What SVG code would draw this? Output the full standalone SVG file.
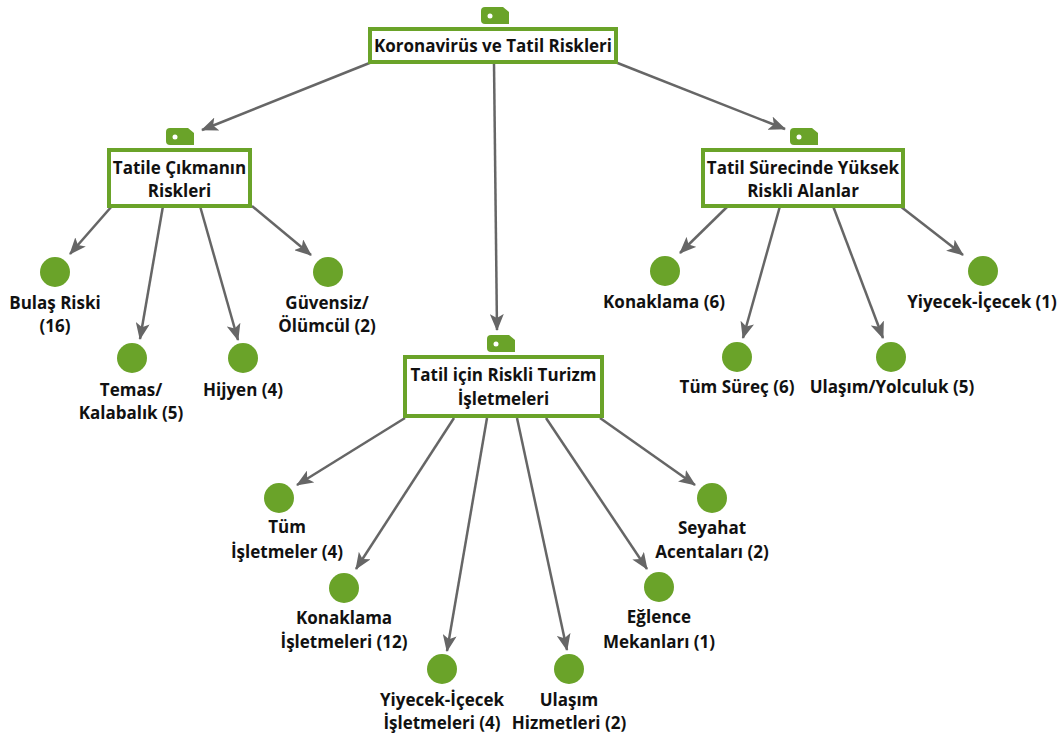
<svg xmlns="http://www.w3.org/2000/svg" width="1064" height="740" viewBox="0 0 1064 740">
  <defs>
    <style>
      .box { fill: #ffffff; stroke: #6aa329; stroke-width: 4; }
      .tag { fill: #6aa329; }
      .dot { fill: #ffffff; }
      .leaf { fill: #6aa329; }
      .lbl { font-family: "Open Sans", "Noto Sans", sans-serif; font-weight: 700; font-size: 17px; fill: #111111; text-anchor: middle; }
      .edge { stroke: #666666; stroke-width: 2.5; fill: none; marker-end: url(#arrow); }
    </style>
    <marker id="arrow" markerUnits="userSpaceOnUse" markerWidth="17" markerHeight="14" refX="16" refY="7" orient="auto">
      <path d="M0,0 L17,7 L0,14 L4,7 Z" fill="#666666"/>
    </marker>
    <path id="tagShape" d="M4,0 H22 L28,5 V17 H4 Q0,17 0,13 V4 Q0,0 4,0 Z"/>
  </defs>

  <rect width="1064" height="740" fill="#ffffff"/>

  <!-- connectors -->
  <g id="connectors">
    <line class="edge" x1="372" y1="62" x2="202" y2="130"/>
    <line class="edge" x1="494" y1="63" x2="497" y2="330"/>
    <line class="edge" x1="615" y1="62" x2="785" y2="129"/>

    <line class="edge" x1="112" y1="206" x2="70" y2="254"/>
    <line class="edge" x1="163" y1="206" x2="140" y2="339"/>
    <line class="edge" x1="200" y1="206" x2="238" y2="340"/>
    <line class="edge" x1="252" y1="206" x2="311" y2="255"/>

    <line class="edge" x1="728" y1="206" x2="680" y2="253"/>
    <line class="edge" x1="780" y1="206" x2="743" y2="338"/>
    <line class="edge" x1="833" y1="206" x2="883" y2="338"/>
    <line class="edge" x1="900" y1="206" x2="963" y2="255"/>

    <line class="edge" x1="405" y1="418" x2="297" y2="485"/>
    <line class="edge" x1="454" y1="418" x2="356" y2="569"/>
    <line class="edge" x1="487" y1="418" x2="447" y2="651"/>
    <line class="edge" x1="517" y1="418" x2="567" y2="650"/>
    <line class="edge" x1="546" y1="418" x2="647" y2="569"/>
    <line class="edge" x1="600" y1="418" x2="695" y2="485"/>
  </g>

  <!-- topic boxes -->
  <g id="root">
    <use href="#tagShape" class="tag" x="481" y="7"/>
    <circle class="dot" cx="490" cy="16" r="2.5"/>
    <rect class="box" x="370" y="29" width="246" height="33"/>
    <text class="lbl" x="493" y="52">Koronavirüs ve Tatil Riskleri</text>
  </g>

  <g id="n-tatile-cikmanin-riskleri">
    <use href="#tagShape" class="tag" x="166" y="128"/>
    <circle class="dot" cx="175" cy="137" r="2.5"/>
    <rect class="box" x="109" y="150" width="141" height="56"/>
    <text class="lbl" x="179.5" y="174">Tatile Çıkmanın</text>
    <text class="lbl" x="179.5" y="197">Riskleri</text>
  </g>

  <g id="n-tatil-surecinde">
    <use href="#tagShape" class="tag" x="790" y="128"/>
    <circle class="dot" cx="799" cy="137" r="2.5"/>
    <rect class="box" x="703" y="150" width="200" height="56"/>
    <text class="lbl" x="803" y="174">Tatil Sürecinde Yüksek</text>
    <text class="lbl" x="803" y="197">Riskli Alanlar</text>
  </g>

  <g id="n-turizm-isletmeleri">
    <use href="#tagShape" class="tag" x="487" y="335"/>
    <circle class="dot" cx="496" cy="344" r="2.5"/>
    <rect class="box" x="405" y="357" width="197" height="59"/>
    <text class="lbl" x="503.5" y="381">Tatil için Riskli Turizm</text>
    <text class="lbl" x="503.5" y="405">İşletmeleri</text>
  </g>

  <!-- leaf topics -->
  <g id="l-bulas">
    <circle class="leaf" cx="55" cy="272" r="15"/>
    <text class="lbl" x="55" y="309">Bulaş Riski</text>
    <text class="lbl" x="55" y="332">(16)</text>
  </g>
  <g id="l-temas">
    <circle class="leaf" cx="132" cy="358" r="15"/>
    <text class="lbl" x="131" y="396">Temas/</text>
    <text class="lbl" x="131" y="419">Kalabalık (5)</text>
  </g>
  <g id="l-hijyen">
    <circle class="leaf" cx="243" cy="358" r="15"/>
    <text class="lbl" x="243" y="396">Hijyen (4)</text>
  </g>
  <g id="l-guvensiz">
    <circle class="leaf" cx="328" cy="272" r="15"/>
    <text class="lbl" x="327" y="309">Güvensiz/</text>
    <text class="lbl" x="327" y="332">Ölümcül (2)</text>
  </g>

  <g id="l-konaklama">
    <circle class="leaf" cx="665" cy="271" r="15"/>
    <text class="lbl" x="664" y="308">Konaklama (6)</text>
  </g>
  <g id="l-tum-surec">
    <circle class="leaf" cx="737" cy="357" r="15"/>
    <text class="lbl" x="737" y="393">Tüm Süreç (6)</text>
  </g>
  <g id="l-ulasim-yolculuk">
    <circle class="leaf" cx="891" cy="357" r="15"/>
    <text class="lbl" x="892" y="393">Ulaşım/Yolculuk (5)</text>
  </g>
  <g id="l-yiyecek-icecek">
    <circle class="leaf" cx="983" cy="271" r="15"/>
    <text class="lbl" x="982" y="308">Yiyecek-İçecek (1)</text>
  </g>

  <g id="l-tum-isletmeler">
    <circle class="leaf" cx="279" cy="498" r="15"/>
    <text class="lbl" x="287" y="533">Tüm</text>
    <text class="lbl" x="287" y="558">İşletmeler (4)</text>
  </g>
  <g id="l-konaklama-isletmeleri">
    <circle class="leaf" cx="344" cy="588" r="15"/>
    <text class="lbl" x="344" y="624">Konaklama</text>
    <text class="lbl" x="344" y="648">İşletmeleri (12)</text>
  </g>
  <g id="l-yiyecek-isletmeleri">
    <circle class="leaf" cx="442" cy="669" r="15"/>
    <text class="lbl" x="442" y="706">Yiyecek-İçecek</text>
    <text class="lbl" x="442" y="729">İşletmeleri (4)</text>
  </g>
  <g id="l-ulasim-hizmetleri">
    <circle class="leaf" cx="569" cy="669" r="15"/>
    <text class="lbl" x="569" y="706">Ulaşım</text>
    <text class="lbl" x="569" y="729">Hizmetleri (2)</text>
  </g>
  <g id="l-eglence">
    <circle class="leaf" cx="659" cy="587" r="15"/>
    <text class="lbl" x="659" y="623">Eğlence</text>
    <text class="lbl" x="659" y="648">Mekanları (1)</text>
  </g>
  <g id="l-seyahat">
    <circle class="leaf" cx="712" cy="498" r="15"/>
    <text class="lbl" x="712" y="534">Seyahat</text>
    <text class="lbl" x="712" y="558">Acentaları (2)</text>
  </g>
</svg>
